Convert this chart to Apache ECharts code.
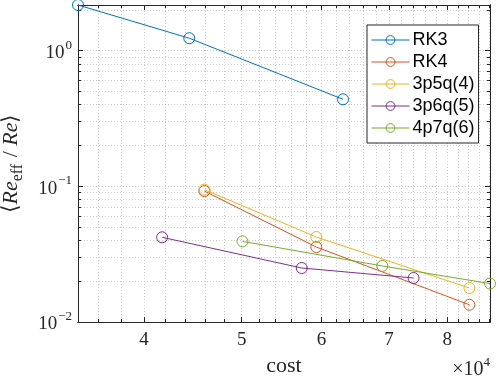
<!DOCTYPE html>
<html>
<head>
<meta charset="utf-8">
<script src="https://cdn.jsdelivr.net/npm/echarts@6/dist/echarts.min.js"></script>
<style>
  html, body { margin: 0; padding: 0; background: #fff; }
  #main { width: 498px; height: 376px; }
</style>
</head>
<body>
<div id="main"></div>
<script>
// data (cost on x, <Re_eff/Re> on y, both log scale)
var seriesNames = ['RK3', 'RK4', '3p5q(4)', '3p6q(5)', '4p7q(6)'];
var costRK3 = [34400, 44360, 63030];
var valRK3 = [2.17, 1.235, 0.438];
var costRK4 = [45920, 59300, 84140];
var valRK4 = [0.0922, 0.0357, 0.0134];
var cost3p5q = [45920, 59300, 84140];
var val3p5q = [0.0945, 0.0423, 0.0178];
var cost3p6q = [41690, 57360, 74060];
var val3p6q = [0.0421, 0.0250, 0.0211];
var cost4p7q = [50090, 68950, 88190];
var val4p7q = [0.0393, 0.0259, 0.0192];

var xMajor = [40000, 50000, 60000, 70000, 80000];
var yMajor = [0.01, 0.1, 1];

var colors = ['#0072BD', '#D95319', '#EDB120', '#7E2F8E', '#77AC30'];

var lg = Math.log10;
var xMin = lg(34400), xMax = lg(88190);
var yMin = lg(0.01), yMax = lg(2.17);

// minor ticks: every 2000 in x, 2..9 per decade in y
var xMinor = [];
for (var c = 34000; c <= 90000; c += 2000) {
  if (xMajor.indexOf(c) < 0) xMinor.push(lg(c));
}
var yMinor = [];
for (var d = -2; d <= 0; d++) {
  for (var k = 2; k <= 9; k++) yMinor.push(lg(k) + d);
}
var xMajLog = xMajor.map(lg);
var yMajLog = yMajor.map(lg);

var axisCol = '#262626';
var gridCol = '#cdcdcd';
var serif = 'Liberation Serif';

function mk(costs, vals) {
  return costs.map(function (c, i) { return [lg(c), lg(vals[i])]; });
}
var allData = [mk(costRK3, valRK3), mk(costRK4, valRK4), mk(cost3p5q, val3p5q),
  mk(cost3p6q, val3p6q), mk(cost4p7q, val4p7q)];

function xAx(pos, ticks, len, labels, grid) {
  return {
    type: 'value', position: pos, min: xMin, max: xMax,
    axisLine: { show: true, onZero: false, lineStyle: { color: axisCol, width: 1 } },
    axisTick: { show: true, inside: true, length: len, customValues: ticks, lineStyle: { color: axisCol } },
    axisLabel: labels ? {
      show: true, customValues: ticks, margin: 9,
      fontFamily: serif, fontSize: 19, color: axisCol,
      formatter: function (v) { return String(Math.round(Math.pow(10, v) / 10000)); }
    } : { show: false },
    splitLine: { show: grid, customValues: ticks, lineStyle: { color: gridCol, type: [1, 2], width: 1 } }
  };
}
function yAx(pos, ticks, len, labels, grid) {
  return {
    type: 'value', position: pos, min: yMin, max: yMax,
    axisLine: { show: true, onZero: false, lineStyle: { color: axisCol, width: 1 } },
    axisTick: { show: true, inside: true, length: len, customValues: ticks, lineStyle: { color: axisCol } },
    axisLabel: labels ? {
      show: true, customValues: ticks, margin: 6,
      formatter: function (v) {
        var e = Math.round(v);
        return '{b|10}{s|' + (e < 0 ? '\u2212' + (-e) : e) + '}';
      },
      rich: {
        b: { fontFamily: serif, fontSize: 19, color: axisCol, lineHeight: 24, verticalAlign: 'bottom' },
        s: { fontFamily: serif, fontSize: 13, color: axisCol, lineHeight: 24, verticalAlign: 'top', padding: [0, 0, 0, 1] }
      }
    } : { show: false },
    splitLine: { show: grid, customValues: ticks, lineStyle: { color: gridCol, type: [1, 2], width: 1 } }
  };
}

var xAxes = [
  xAx('bottom', xMajLog, 5, true, true),
  xAx('bottom', xMinor, 3, false, true),
  xAx('top', xMajLog, 5, false, false),
  xAx('top', xMinor, 3, false, false)
];
xAxes[0].name = 'cost';
xAxes[0].nameLocation = 'middle';
xAxes[0].nameGap = 33;
xAxes[0].nameTextStyle = { fontFamily: serif, fontSize: 22, color: axisCol };

var yAxes = [
  yAx('left', yMajLog, 5, true, true),
  yAx('left', yMinor, 3, false, true),
  yAx('right', yMajLog, 5, false, false),
  yAx('right', yMinor, 3, false, false)
];
yAxes[0].name = '{t|\u27e8}{i|Re}{sub|eff}{t| / }{i|Re}{t|\u27e9}';
yAxes[0].nameLocation = 'middle';
yAxes[0].nameRotate = 90;
yAxes[0].nameGap = 52;
yAxes[0].nameTextStyle = {
  rich: {
    t: { fontFamily: serif, fontSize: 22, color: axisCol, lineHeight: 30, verticalAlign: 'middle' },
    i: { fontFamily: serif, fontStyle: 'italic', fontSize: 22, color: axisCol, lineHeight: 30, verticalAlign: 'middle' },
    sub: { fontFamily: serif, fontSize: 16, color: axisCol, lineHeight: 30, verticalAlign: 'bottom', padding: [0, 1, 0, 0] }
  }
};

var series = seriesNames.map(function (n, i) {
  return {
    name: n, type: 'line', data: allData[i],
    xAxisIndex: 0, yAxisIndex: 0,
    symbol: 'circle', symbolSize: 11,
    lineStyle: { color: colors[i], width: 1 },
    itemStyle: { color: 'rgba(255,255,255,0)', borderColor: colors[i], borderWidth: 1 },
    emphasis: { disabled: true },
    clip: false, z: 5
  };
});

var chart = echarts.init(document.getElementById('main'));
chart.setOption({
  animation: false,
  backgroundColor: '#fff',
  grid: { left: 78, right: 8, top: 5, bottom: 54, outerBoundsMode: 'none', containLabel: false },
  xAxis: xAxes,
  yAxis: yAxes,
  legend: {
    orient: 'vertical', left: 367, top: 25,
    backgroundColor: '#fff', borderColor: axisCol, borderWidth: 1,
    padding: [6, 4, 6, 4],
    itemWidth: 38, itemHeight: 11, itemGap: 4,
    itemStyle: { borderWidth: 1 },
    lineStyle: { width: 1 },
    textStyle: { fontFamily: 'Liberation Sans', fontSize: 18, color: '#000', padding: [0, 0, 0, -2] },
    data: seriesNames
  },
  graphic: [{
    type: 'text', right: 8, top: 356,
    style: {
      text: '{b|\u00d710}{s|4}',
      rich: {
        b: { fontFamily: serif, fontSize: 20, fill: axisCol, lineHeight: 24, verticalAlign: 'bottom' },
        s: { fontFamily: serif, fontSize: 13, fill: axisCol, lineHeight: 24, verticalAlign: 'top' }
      }
    }
  }],
  series: series
});
</script>
</body>
</html>
